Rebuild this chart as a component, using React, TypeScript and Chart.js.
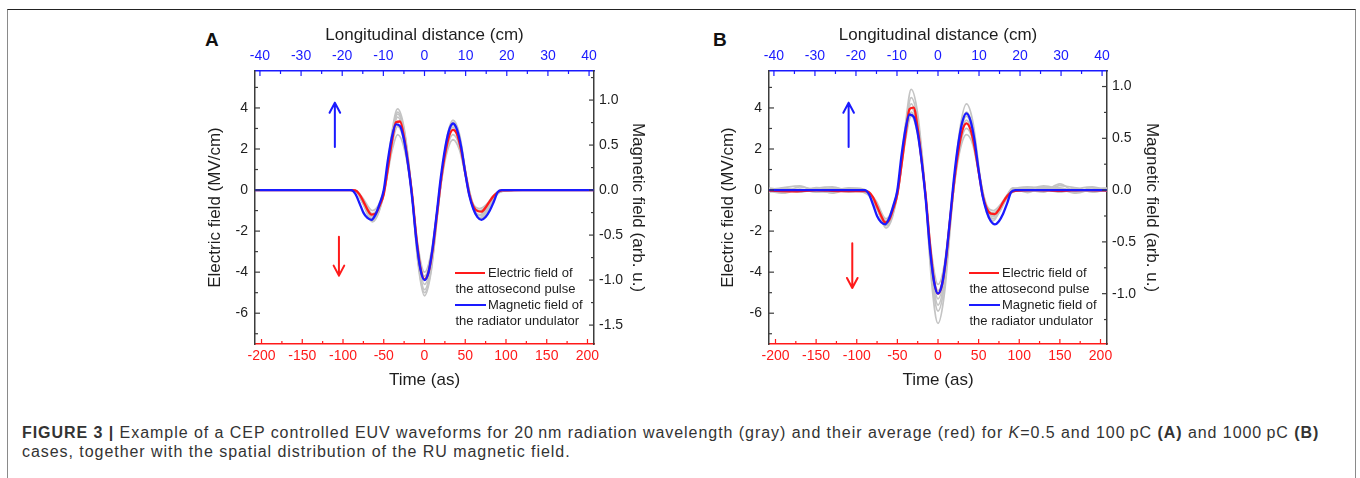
import React, { useEffect, useRef } from 'react';
import { Chart, registerables } from 'chart.js';

Chart.register(...registerables);

const FONT = "'Liberation Sans', Arial, Helvetica, sans-serif";
const RED = '#ff1a1a';
const BLUE = '#1a1aff';
const GRAY = '#c4c4c4';
const AXIS = '#3c3c3c';
const TEXT = '#1e1e1e';

// ---- averaged curves: time grid (as)
const T = [-210, -180, -150, -120, -90, -85, -80, -75, -70, -65, -60, -55, -50, -45, -40, -35, -30, -25, -20, -15, -10, -5, 0, 5, 10, 15, 20, 25, 30, 35, 40, 45, 50, 55, 60, 65, 70, 75, 80, 85, 90, 95, 120, 150, 180, 210];

// magnetic field of the radiator undulator (arb. u.), same in both panels
const MAG = [0, 0, 0, 0, 0, -0.04, -0.14, -0.25, -0.31, -0.33, -0.27, -0.15, 0, 0.33, 0.59, 0.73, 0.71, 0.55, 0.27, -0.1, -0.56, -0.88, -1.0, -0.91, -0.64, -0.26, 0.14, 0.45, 0.66, 0.74, 0.67, 0.48, 0.19, -0.06, -0.21, -0.3, -0.33, -0.3, -0.23, -0.13, -0.02, 0, 0, 0, 0, 0];

// average electric field (MV/cm)
const RED_A = [0, 0, 0, 0, 0, -0.02, -0.2, -0.55, -0.95, -1.2, -1.15, -0.75, -0.2, 1.05, 2.35, 3.3, 3.34, 2.55, 1.25, -0.3, -2.3, -3.8, -4.35, -4.0, -2.9, -1.3, 0.4, 1.7, 2.6, 2.93, 2.7, 1.95, 0.85, -0.2, -0.8, -1.02, -1.05, -0.85, -0.55, -0.28, -0.1, -0.02, 0, 0, 0, 0];
const RED_B = [-0.03, -0.06, -0.01, -0.05, -0.05, -0.1, -0.35, -0.8, -1.25, -1.58, -1.45, -0.9, -0.2, 1.2, 2.7, 3.95, 4.02, 3.0, 1.4, -0.35, -2.6, -4.4, -5.05, -4.6, -3.3, -1.4, 0.45, 1.9, 2.9, 3.25, 2.95, 2.1, 0.9, -0.25, -0.9, -1.15, -1.17, -0.95, -0.6, -0.3, -0.1, -0.04, 0, -0.04, 0, -0.03];

// ---- individual waveforms (gray): time grid (as)
const GT = [-210, -190, -170, -150, -130, -110, -92, -84, -76, -64, -56, -48, -40, -33, -25, -16, -8, 0, 8, 17, 26, 35, 43, 52, 60, 68, 76, 84, 92, 110, 130, 150, 170, 190, 210];

const GRAY_A1 = [0, 0, 0, 0, 0, 0, 0, -0.06, -0.6, -1.55, -1.05, 0.3, 2.8, 3.95, 3.0, 0.05, -3.55, -5.15, -4.0, -0.8, 2.2, 3.4, 2.7, 0.5, -0.95, -1.35, -1.05, -0.45, -0.1, 0, 0, 0, 0, 0, 0];
const GRAY_A2 = [0, 0, 0, 0, 0, 0, 0, -0.03, -0.38, -1.0, -0.7, 0.25, 1.9, 2.7, 2.05, 0.0, -2.75, -4.0, -3.1, -0.55, 1.6, 2.45, 1.95, 0.4, -0.7, -0.9, -0.7, -0.3, -0.05, 0, 0, 0, 0, 0, 0];
const GRAY_A3 = [0, 0, 0, 0, 0, 0, 0, -0.05, -0.55, -1.4, -0.95, 0.35, 2.6, 3.7, 2.8, 0.05, -3.3, -4.85, -3.75, -0.7, 2.05, 3.15, 2.5, 0.5, -0.9, -1.2, -0.92, -0.38, -0.08, 0, 0, 0, 0, 0, 0];
const GRAY_A4 = [0, 0, 0, 0, 0, 0, 0, -0.04, -0.45, -1.15, -0.8, 0.3, 2.2, 3.1, 2.35, 0.0, -2.9, -4.2, -3.25, -0.6, 1.75, 2.7, 2.15, 0.45, -0.75, -1.0, -0.78, -0.32, -0.06, 0, 0, 0, 0, 0, 0];
const GRAY_A5 = [0, 0, 0, 0, 0, 0, 0, -0.05, -0.5, -1.3, -0.95, 0.25, 2.5, 3.55, 2.7, 0.1, -3.15, -4.6, -3.6, -0.7, 1.95, 3.05, 2.45, 0.55, -0.85, -1.4, -1.15, -0.5, -0.12, 0, 0, 0, 0, 0, 0];
const GRAY_A6 = [0, 0, 0, 0, 0, 0, 0, -0.06, -0.62, -1.5, -1.05, 0.2, 2.65, 3.8, 2.9, 0.05, -3.4, -5.0, -3.9, -0.75, 2.1, 3.3, 2.6, 0.45, -0.9, -1.25, -0.95, -0.4, -0.07, 0, 0, 0, 0, 0, 0];

const GRAY_B1 = [0.05, -0.1, 0.15, 0.0, -0.12, 0.08, -0.05, -0.25, -0.75, -1.85, -1.3, 0.3, 3.2, 4.9, 3.7, 0.1, -4.4, -6.5, -5.0, -0.9, 2.7, 4.2, 3.3, 0.6, -1.1, -1.5, -1.0, -0.4, -0.05, 0.1, -0.05, 0.3, -0.1, 0.12, -0.05];
const GRAY_B2 = [-0.12, 0.05, -0.05, 0.12, 0.02, -0.1, 0.0, -0.15, -0.55, -1.4, -0.9, 0.35, 2.45, 3.6, 2.7, 0.0, -3.1, -4.6, -3.6, -0.65, 1.75, 2.7, 2.2, 0.45, -0.75, -1.0, -0.75, -0.3, 0.05, -0.12, 0.15, -0.05, 0.08, -0.1, 0.05];
const GRAY_B3 = [0.0, 0.12, 0.2, -0.08, 0.1, 0.0, -0.1, -0.3, -0.8, -1.75, -1.2, 0.3, 3.0, 4.5, 3.4, 0.05, -4.0, -5.9, -4.6, -0.85, 2.45, 3.8, 3.0, 0.55, -1.0, -1.4, -1.05, -0.35, 0.1, 0.05, 0.2, 0.05, -0.15, 0.05, 0.1];
const GRAY_B4 = [-0.05, -0.15, 0.05, -0.1, -0.05, 0.1, 0.05, -0.2, -0.7, -1.5, -1.0, 0.4, 2.6, 3.8, 2.85, 0.0, -3.35, -4.9, -3.85, -0.7, 1.95, 3.0, 2.4, 0.5, -0.85, -1.1, -0.85, -0.35, -0.1, 0.0, -0.1, 0.22, 0.1, -0.05, 0.0];
const GRAY_B5 = [0.1, 0.0, -0.1, 0.08, 0.15, -0.05, -0.08, -0.28, -0.85, -1.65, -1.15, 0.25, 2.85, 4.2, 3.15, 0.05, -3.6, -5.3, -4.15, -0.75, 2.2, 3.4, 2.7, 0.5, -0.95, -1.25, -0.9, -0.3, 0.0, 0.15, 0.05, -0.1, 0.05, 0.15, -0.08];
const GRAY_B6 = [-0.08, 0.08, 0.0, 0.05, -0.15, 0.05, -0.02, -0.22, -0.78, -1.7, -1.2, 0.3, 2.8, 4.0, 3.05, 0.0, -3.8, -5.6, -4.35, -0.8, 2.3, 3.6, 2.85, 0.5, -0.9, -1.3, -1.0, -0.45, -0.05, -0.05, 0.1, 0.1, -0.05, 0.0, 0.05];

// ---- tick labels
const TIME_TICKS = [-200, -150, -100, -50, 0, 50, 100, 150, 200];
const DIST_TICKS = [-40, -30, -20, -10, 0, 10, 20, 30, 40];
const E_TICKS = [-6, -4, -2, 0, 2, 4];
const B_TICKS_A = [-1.5, -1.0, -0.5, 0, 0.5, 1.0];
const B_TICKS_B = [-1.0, -0.5, 0, 0.5, 1.0];

// ---- arrows (time, from E, to E)
const ARROWS_A = [
  { t: -110, from: 2.1, to: 4.25, color: BLUE },
  { t: -105, from: -2.27, to: -4.17, color: RED },
];
const ARROWS_B = [
  { t: -110, from: 2.1, to: 4.25, color: BLUE },
  { t: -105.5, from: -2.59, to: -4.77, color: RED },
];

const pts = (xs: number[], ys: number[]) => xs.map((x, i) => ({ x, y: ys[i] }));

interface PanelProps {
  left: number;
  width: number;
  leftW: number;
  rightW: number;
  rightTitlePad: number;
  red: number[];
  grays: number[][];
  rTicks: number[];
  rMin: number;
  rMax: number;
  arrows: { t: number; from: number; to: number; color: string }[];
}

function Panel(p: PanelProps) {
  const ref = useRef<HTMLCanvasElement | null>(null);
  useEffect(() => {
    const canvas = ref.current;
    if (!canvas) return;

    const tickPlugin = {
      id: 'inwardTicks',
      afterDraw(chart: any) {
        const ctx = chart.ctx;
        const a = chart.chartArea;
        const s = chart.scales;
        ctx.save();
        ctx.lineWidth = 1.2;
        const draw = (scale: any, step: number, majorStep: number, color: string, dir: string) => {
          ctx.strokeStyle = color;
          const i0 = Math.ceil(scale.min / step - 1e-9);
          const i1 = Math.floor(scale.max / step + 1e-9);
          for (let i = i0; i <= i1; i++) {
            const v = i * step;
            const q = v / majorStep;
            const major = Math.abs(q - Math.round(q)) < 1e-6;
            const len = major ? 5 : 3;
            const px = scale.getPixelForValue(v);
            ctx.beginPath();
            if (dir === 'up') { ctx.moveTo(px, a.bottom); ctx.lineTo(px, a.bottom - len); }
            if (dir === 'down') { ctx.moveTo(px, a.top); ctx.lineTo(px, a.top + len); }
            if (dir === 'right') { ctx.moveTo(a.left, px); ctx.lineTo(a.left + len, px); }
            if (dir === 'left') { ctx.moveTo(a.right, px); ctx.lineTo(a.right - len, px); }
            ctx.stroke();
          }
        };
        draw(s.x, 25, 50, RED, 'up');
        draw(s.x2, 5, 10, BLUE, 'down');
        draw(s.y, 1, 2, AXIS, 'right');
        draw(s.y2, 0.25, 0.5, AXIS, 'left');
        ctx.restore();
      },
    };

    const arrowPlugin = {
      id: 'arrows',
      afterDatasetsDraw(chart: any) {
        const ctx = chart.ctx;
        const s = chart.scales;
        ctx.save();
        ctx.lineWidth = 2;
        ctx.lineCap = 'round';
        ctx.lineJoin = 'round';
        p.arrows.forEach((ar) => {
          const x = s.x.getPixelForValue(ar.t);
          const y1 = s.y.getPixelForValue(ar.from);
          const y2 = s.y.getPixelForValue(ar.to);
          const dir = Math.sign(y2 - y1);
          ctx.strokeStyle = ar.color;
          ctx.beginPath();
          ctx.moveTo(x, y1);
          ctx.lineTo(x, y2);
          ctx.moveTo(x - 5.3, y2 - dir * 10);
          ctx.lineTo(x, y2);
          ctx.lineTo(x + 5.3, y2 - dir * 10);
          ctx.stroke();
        });
        ctx.restore();
      },
    };

    const tickFont = { family: FONT, size: 14 };
    const titleFont = { family: FONT, size: 17 };
    const noGrid = { display: false, drawTicks: false, tickLength: 0 };

    const chart = new Chart(canvas, {
      type: 'line',
      data: {
        datasets: [
          {
            label: 'Magnetic field of the radiator undulator',
            data: pts(T, MAG),
            xAxisID: 'x',
            yAxisID: 'y2',
            borderColor: BLUE,
            borderWidth: 2.3,
            pointRadius: 0,
            cubicInterpolationMode: 'monotone',
          },
          {
            label: 'Electric field of the attosecond pulse',
            data: pts(T, p.red),
            xAxisID: 'x',
            yAxisID: 'y',
            borderColor: RED,
            borderWidth: 2.3,
            pointRadius: 0,
            cubicInterpolationMode: 'monotone',
          },
          ...p.grays.map((g, i) => ({
            label: 'waveform ' + (i + 1),
            data: pts(GT, g),
            xAxisID: 'x',
            yAxisID: 'y',
            borderColor: GRAY,
            borderWidth: 1.8,
            pointRadius: 0,
            cubicInterpolationMode: 'monotone',
          })),
        ] as any,
      },
      options: {
        responsive: false,
        animation: false,
        events: [],
        layout: { padding: 0 },
        plugins: { legend: { display: false }, tooltip: { enabled: false } },
        scales: {
          x: {
            type: 'linear',
            position: 'bottom',
            min: -208,
            max: 208,
            afterBuildTicks: (sc: any) => { sc.ticks = TIME_TICKS.map((v) => ({ value: v })); },
            afterFit: (sc: any) => { sc.height = 51; },
            ticks: { color: RED, font: tickFont, padding: 4, maxRotation: 0, autoSkip: false, callback: (v: any) => String(v) },
            grid: noGrid,
            border: { display: true, color: RED, width: 1.5 },
            title: { display: true, text: 'Time (as)', color: TEXT, font: titleFont, padding: { top: 0, bottom: 4 } },
          },
          x2: {
            type: 'linear',
            position: 'top',
            min: -41.2,
            max: 41.2,
            afterBuildTicks: (sc: any) => { sc.ticks = DIST_TICKS.map((v) => ({ value: v })); },
            afterFit: (sc: any) => { sc.height = 51; },
            ticks: { color: BLUE, font: tickFont, padding: 6, maxRotation: 0, autoSkip: false, callback: (v: any) => String(v) },
            grid: noGrid,
            border: { display: true, color: BLUE, width: 1.5 },
            title: { display: true, text: 'Longitudinal distance (cm)', color: TEXT, font: titleFont, padding: { top: 5, bottom: 0 } },
          },
          y: {
            type: 'linear',
            position: 'left',
            min: -7.5,
            max: 5.8,
            afterBuildTicks: (sc: any) => { sc.ticks = E_TICKS.map((v) => ({ value: v })); },
            afterFit: (sc: any) => { sc.width = p.leftW; },
            ticks: { color: TEXT, font: tickFont, padding: 7, autoSkip: false, callback: (v: any) => String(v) },
            grid: noGrid,
            border: { display: true, color: AXIS, width: 1.5 },
            title: { display: true, text: 'Electric field (MV/cm)', color: TEXT, font: titleFont, padding: { top: 5, bottom: 0 } },
          },
          y2: {
            type: 'linear',
            position: 'right',
            min: p.rMin,
            max: p.rMax,
            afterBuildTicks: (sc: any) => { sc.ticks = p.rTicks.map((v) => ({ value: v })); },
            afterFit: (sc: any) => { sc.width = p.rightW; },
            ticks: { color: TEXT, font: tickFont, padding: 5, autoSkip: false, callback: (v: any) => Number(v).toFixed(1) },
            grid: noGrid,
            border: { display: true, color: AXIS, width: 1.5 },
            title: { display: true, text: 'Magnetic field (arb. u.)', color: TEXT, font: titleFont, padding: { top: p.rightTitlePad, bottom: 0 } },
          },
        },
      } as any,
      plugins: [tickPlugin, arrowPlugin] as any,
    });
    return () => chart.destroy();
  }, []);

  return (
    <canvas
      ref={ref}
      width={p.width}
      height={375}
      style={{ position: 'absolute', left: p.left, top: 20, width: p.width, height: 375 }}
    />
  );
}

function Legend({ x }: { x: number }) {
  const txt: React.CSSProperties = {
    position: 'absolute',
    font: `13px ${FONT}`,
    lineHeight: '16px',
    height: 16,
    color: TEXT,
    whiteSpace: 'nowrap',
  };
  return (
    <>
      <div style={{ position: 'absolute', left: x, top: 271.5, width: 30, height: 2.4, background: RED }} />
      <div style={{ ...txt, left: x + 33, top: 264.7 }}>Electric field of</div>
      <div style={{ ...txt, left: x + 0.5, top: 281.3 }}>the attosecond pulse</div>
      <div style={{ position: 'absolute', left: x, top: 303.5, width: 31, height: 2.4, background: BLUE }} />
      <div style={{ ...txt, left: x + 33, top: 296.7 }}>Magnetic field of</div>
      <div style={{ ...txt, left: x + 0.5, top: 312.7 }}>the radiator undulator</div>
    </>
  );
}

export default function App() {
  const letter: React.CSSProperties = {
    position: 'absolute',
    top: 30,
    font: `bold 19px ${FONT}`,
    lineHeight: '20px',
    color: '#111',
  };
  return (
    <div style={{ position: 'absolute', left: 0, top: 0, width: 1360, height: 478, overflow: 'hidden', background: '#fff' }}>
      <div
        style={{
          position: 'absolute',
          left: 6.5,
          top: 8.5,
          width: 1349,
          height: 500,
          boxSizing: 'border-box',
          borderTop: '1.5px solid #222',
          borderLeft: '1.5px solid #8a8a8a',
          borderRight: '1.5px solid #8a8a8a',
        }}
      />
      <div style={{ ...letter, left: 205 }}>A</div>
      <div style={{ ...letter, left: 713 }}>B</div>
      <Panel left={200} width={455} leftW={55} rightW={61} rightTitlePad={7} red={RED_A}
        grays={[GRAY_A1, GRAY_A2, GRAY_A3, GRAY_A4, GRAY_A5, GRAY_A6]}
        rTicks={B_TICKS_A} rMin={-1.71} rMax={1.323} arrows={ARROWS_A} />
      <Panel left={713} width={454} leftW={56} rightW={60} rightTitlePad={5} red={RED_B}
        grays={[GRAY_B1, GRAY_B2, GRAY_B3, GRAY_B4, GRAY_B5, GRAY_B6]}
        rTicks={B_TICKS_B} rMin={-1.486} rMax={1.15} arrows={ARROWS_B} />
      <Legend x={455} />
      <Legend x={969} />
      <div
        style={{
          position: 'absolute',
          left: 22,
          top: 423,
          font: `16px ${FONT}`,
          lineHeight: '19px',
          color: '#333',
          whiteSpace: 'nowrap',
          letterSpacing: '0.95px',
        }}
      >
        <b>FIGURE 3 | </b>Example of a CEP controlled EUV waveforms for 20{'\u2009'}nm radiation wavelength (gray) and their average (red) for <i>K</i>=0.5 and 100{'\u2009'}pC <b>(A)</b> and 1000{'\u2009'}pC <b>(B)</b>
        <br />
        cases, together with the spatial distribution of the RU magnetic field.
      </div>
    </div>
  );
}
